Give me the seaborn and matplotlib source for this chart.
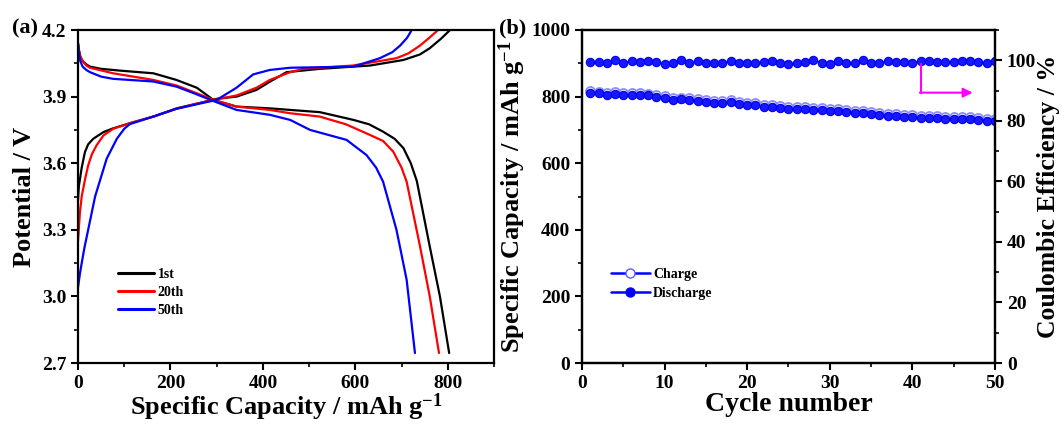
import numpy as np
import pandas as pd
import matplotlib
matplotlib.use("Agg")
import matplotlib.pyplot as plt
from matplotlib.ticker import MultipleLocator
from matplotlib.lines import Line2D
import seaborn as sns

# ---------------- data: panel (a) galvanostatic profiles ----------------
cycles = ["1st", "20th", "50th"]
colors = ["#000000", "#ff0000", "#0000ff"]

cap_chg_1 = [0, 1, 2, 4, 8, 15, 22, 33, 55, 76, 112, 163, 213, 271, 300, 343, 386, 415, 451, 523, 632, 704, 740, 761, 785, 805]
v_chg_1 = [3.43, 3.47, 3.50, 3.525, 3.58, 3.65, 3.685, 3.71, 3.74, 3.757, 3.78, 3.81, 3.847, 3.875, 3.89, 3.90, 3.93, 3.967, 4.01, 4.025, 4.04, 4.065, 4.09, 4.118, 4.16, 4.2]
cap_chg_20 = [0, 2, 4, 8, 15, 22, 30, 40, 55, 76, 112, 163, 213, 271, 300, 343, 386, 415, 459, 487, 595, 689, 715, 740, 760, 779]
v_chg_20 = [3.25, 3.31, 3.375, 3.45, 3.525, 3.59, 3.64, 3.68, 3.725, 3.755, 3.78, 3.81, 3.845, 3.875, 3.888, 3.905, 3.94, 3.975, 4.01, 4.025, 4.04, 4.073, 4.095, 4.13, 4.165, 4.2]
cap_chg_50 = [0, 2, 4, 8, 14, 22, 30, 37, 48, 62, 84, 100, 112, 163, 213, 271, 300, 343, 379, 415, 459, 596, 653, 680, 697, 712, 722]
v_chg_50 = [3.04, 3.07, 3.10, 3.15, 3.22, 3.30, 3.38, 3.45, 3.525, 3.62, 3.71, 3.755, 3.776, 3.81, 3.845, 3.872, 3.885, 3.94, 4.0, 4.02, 4.03, 4.035, 4.073, 4.10, 4.13, 4.165, 4.2]

cap_dis_1 = [0, 2, 5, 10, 18, 26, 50, 91, 163, 213, 257, 293, 343, 415, 459, 523, 596, 630, 660, 685, 704, 720, 733, 761, 783, 803]
v_dis_1 = [4.14, 4.11, 4.08, 4.06, 4.045, 4.035, 4.025, 4.017, 4.005, 3.975, 3.94, 3.885, 3.855, 3.847, 3.84, 3.83, 3.795, 3.775, 3.742, 3.71, 3.668, 3.60, 3.52, 3.225, 3.0, 2.745]
cap_dis_20 = [0, 2, 5, 10, 18, 26, 76, 163, 213, 257, 293, 343, 415, 459, 523, 580, 632, 660, 682, 700, 711, 740, 761, 781]
v_dis_20 = [4.14, 4.11, 4.08, 4.06, 4.04, 4.03, 4.005, 3.975, 3.95, 3.915, 3.885, 3.855, 3.84, 3.825, 3.81, 3.775, 3.727, 3.70, 3.652, 3.58, 3.517, 3.225, 3.0, 2.745]
cap_dis_50 = [0, 2, 5, 10, 18, 26, 50, 76, 163, 213, 257, 293, 343, 415, 459, 502, 581, 624, 645, 660, 689, 711, 729]
v_dis_50 = [4.14, 4.10, 4.06, 4.035, 4.02, 4.01, 3.99, 3.98, 3.968, 3.945, 3.91, 3.88, 3.84, 3.818, 3.795, 3.75, 3.705, 3.637, 3.58, 3.517, 3.3, 3.075, 2.745]

# ---------------- data: panel (b) cycling ----------------
cycle_no = list(range(1, 51))
discharge_cap = [810, 810, 804, 808, 805, 804, 804, 804, 800, 796,
                 791, 792, 791, 788, 785, 782, 782, 783, 778, 775,
                 774, 768, 768, 766, 763, 764, 763, 761, 759, 757,
                 756, 755, 752, 750, 748, 744, 743, 741, 740, 738,
                 737, 735, 735, 734, 733, 732, 732, 730, 728, 727]
charge_cap = [816, 815, 810, 813, 811, 810, 810, 809, 806, 802,
              797, 797, 797, 794, 791, 788, 787, 789, 784, 781,
              780, 774, 774, 772, 769, 770, 769, 767, 765, 763,
              762, 761, 758, 756, 754, 750, 749, 747, 746, 744,
              743, 741, 741, 740, 739, 738, 738, 736, 734, 733]
coulombic_eff = [99.4, 99.4, 99.0, 100.0, 99.2, 99.7, 99.3, 99.7, 99.4, 98.8,
                 99.0, 100.0, 99.0, 99.6, 99.1, 99.1, 99.0, 99.7, 99.2, 99.2,
                 99.2, 99.4, 99.7, 99.1, 98.8, 99.1, 99.4, 100.1, 99.2, 98.9,
                 99.8, 99.2, 99.1, 100.0, 99.2, 99.1, 99.7, 99.3, 99.3, 99.0,
                 99.7, 99.6, 99.3, 99.3, 99.4, 99.6, 99.8, 99.4, 99.2, 99.8]

# ---------------- style ----------------
sns.set_theme(style="ticks")
plt.rcParams.update({
    "font.family": ["Liberation Serif", "DejaVu Serif"],
    "font.weight": "bold",
    "axes.labelweight": "bold",
    "text.color": "black",
    "axes.labelcolor": "black",
    "xtick.labelcolor": "black",
    "ytick.labelcolor": "black",
    "mathtext.fontset": "custom",
    "mathtext.rm": "Liberation Serif:bold",
    "mathtext.it": "Liberation Serif:bold",
    "mathtext.bf": "Liberation Serif:bold",
    "mathtext.default": "rm",
    "axes.linewidth": 1.6,
    "xtick.major.width": 1.5, "ytick.major.width": 1.5,
    "xtick.minor.width": 1.2, "ytick.minor.width": 1.2,
    "xtick.major.size": 5, "ytick.major.size": 5,
    "xtick.minor.size": 3, "ytick.minor.size": 3,
    "xtick.color": "black", "ytick.color": "black",
    "axes.edgecolor": "black",
    "xtick.labelsize": 14, "ytick.labelsize": 14,
})

fig = plt.figure(figsize=(10.62, 4.24), dpi=100)
axA = fig.add_axes([78 / 1062, 61 / 424, 416 / 1062, 333 / 424])
axB = fig.add_axes([582 / 1062, 61 / 424, 413 / 1062, 333 / 424])

# ---------------- panel (a) ----------------
chg = [(cap_chg_1, v_chg_1), (cap_chg_20, v_chg_20), (cap_chg_50, v_chg_50)]
dis = [(cap_dis_1, v_dis_1), (cap_dis_20, v_dis_20), (cap_dis_50, v_dis_50)]
for lab, col, (cx, cy), (dx, dy) in zip(cycles, colors, chg, dis):
    sns.lineplot(x=cx, y=cy, sort=False, color=col, lw=1.6, ax=axA, label=lab)
    sns.lineplot(x=dx, y=dy, sort=False, color=col, lw=1.6, ax=axA)

axA.set_xlim(0, 900)
axA.set_ylim(2.7, 4.2)
axA.xaxis.set_major_locator(MultipleLocator(200))
axA.xaxis.set_minor_locator(MultipleLocator(100))
axA.yaxis.set_major_locator(MultipleLocator(0.3))
axA.yaxis.set_minor_locator(MultipleLocator(0.15))
axA.yaxis.set_major_formatter(matplotlib.ticker.FormatStrFormatter("%.1f"))
axA.tick_params(which="both", direction="out", top=False, right=False)
for s in axA.spines.values():
    s.set_visible(True)
    s.set_linewidth(1.6)
axA.set_xlabel("Specific Capacity / mAh g$^{-1}$", fontsize=19, labelpad=0)
axA.set_ylabel("Potential / V", fontsize=19, labelpad=4)
for t in axA.get_xticklabels() + axA.get_yticklabels():
    t.set_fontweight("bold")
leg = axA.legend(loc="upper left", bbox_to_anchor=(0.096, 0.285), frameon=False,
                 borderpad=0, borderaxespad=0, handlelength=2.6, handletextpad=0.25,
                 labelspacing=0.35, prop={"size": 10, "weight": "bold"})
for h in leg.get_lines():
    h.set_linewidth(2.2)

# ---------------- panel (b) ----------------
df = pd.DataFrame({"cycle": cycle_no, "charge": charge_cap,
                   "discharge": discharge_cap, "ce": coulombic_eff})
sns.lineplot(data=df, x="cycle", y="charge", ax=axB, color="#3a3aff", lw=1.0,
             marker="o", markersize=6.5, markerfacecolor="white",
             markeredgecolor="#8c8cff", markeredgewidth=1.3)
sns.lineplot(data=df, x="cycle", y="discharge", ax=axB, color="#0000ff", lw=1.0,
             marker="o", markersize=6, markerfacecolor="#1818ff",
             markeredgecolor="#0000ee", markeredgewidth=0.8)
axB.set_xlim(0, 50)
axB.set_ylim(0, 1000)
axB.xaxis.set_major_locator(MultipleLocator(10))
axB.xaxis.set_minor_locator(MultipleLocator(5))
axB.yaxis.set_major_locator(MultipleLocator(200))
axB.yaxis.set_minor_locator(MultipleLocator(100))
axB.tick_params(which="both", direction="out", top=False, right=False)
axB.set_xlabel("Cycle number", fontsize=20, labelpad=0)
axB.set_ylabel("Specific Capacity / mAh g$^{-1}$", fontsize=19, labelpad=2)

axB2 = axB.twinx()
sns.lineplot(data=df, x="cycle", y="ce", ax=axB2, color="#0000ff", lw=1.0,
             marker="o", markersize=6, markerfacecolor="#1818ff",
             markeredgecolor="#0000ee", markeredgewidth=0.8)
axB2.set_ylim(0, 110)
axB2.yaxis.set_major_locator(MultipleLocator(20))
axB2.yaxis.set_minor_locator(MultipleLocator(10))
axB2.tick_params(which="both", direction="out")
axB2.set_ylabel("Coulombic Efficiency / %", fontsize=18.5, labelpad=1)
for s in list(axB.spines.values()) + list(axB2.spines.values()):
    s.set_linewidth(1.6)
for t in axB.get_xticklabels() + axB.get_yticklabels() + axB2.get_yticklabels():
    t.set_fontweight("bold")

# magenta arrow pointing to right axis
axB2.plot([41, 41], [98.7, 89.3], color="#ff00ff", lw=1.5)
axB2.annotate("", xy=(47.3, 89.3), xytext=(40.9, 89.3),
              arrowprops=dict(arrowstyle="-|>", color="#ff00ff", lw=1.5,
                              mutation_scale=14, shrinkA=0, shrinkB=0))

handles = [
    Line2D([], [], color="#0000ff", lw=1.8, marker="o", markersize=6.5,
           markerfacecolor="white", markeredgecolor="#5a5aff"),
    Line2D([], [], color="#0000ff", lw=1.8, marker="o", markersize=6.5,
           markerfacecolor="#0000ff", markeredgecolor="#0000ff"),
]
axB.legend(handles, ["Charge", "Discharge"], loc="upper left",
           bbox_to_anchor=(0.07, 0.285), frameon=False, borderpad=0,
           borderaxespad=0, handlelength=2.8, handletextpad=0.25,
           labelspacing=0.45, prop={"size": 10, "weight": "bold"})

fig.text(12 / 1062, 1 - 33 / 424, "(a)", fontsize=16, fontweight="bold")
fig.text(499 / 1062, 1 - 33 / 424, "(b)", fontsize=16, fontweight="bold")

fig.savefig("out.png", dpi=100)
